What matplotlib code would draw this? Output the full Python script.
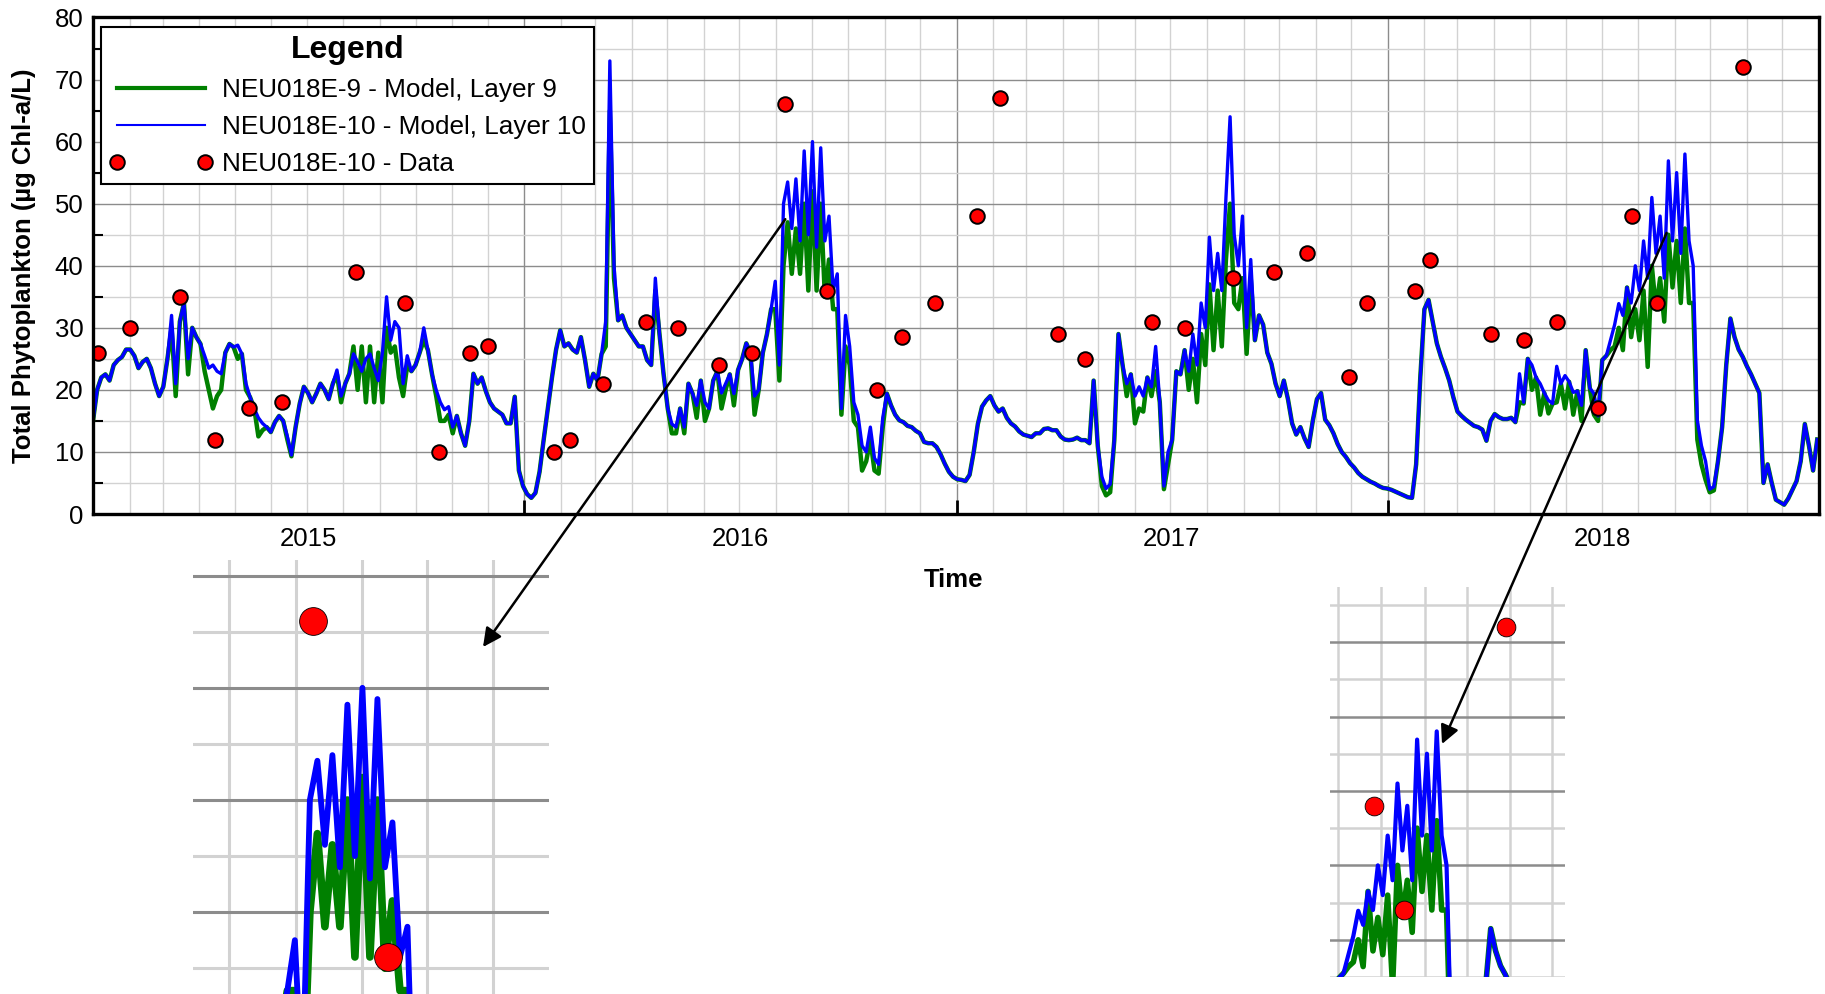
import numpy as np
import pandas as pd
import matplotlib
matplotlib.use("Agg")
import matplotlib.pyplot as plt
import matplotlib.dates as mdates
from matplotlib.patches import ConnectionPatch

plt.rcParams["font.family"] = ["Liberation Sans", "DejaVu Sans"]

# model output every 3.5 days, first value on 2015-01-01
layer10 = [
    15, 20, 22, 22.5, 21.5, 24, 24.8, 25.3, 26.5, 26.5,
    25.5, 23.5, 24.5, 25, 23.5, 21, 19, 20.5, 25, 32,
    21, 31, 34, 25, 30, 28.5, 27.4, 25.5, 23.5, 24,
    23, 22.6, 26, 27.4, 26.9, 27.2, 25.8, 21, 18.8, 17,
    15.5, 14.6, 14, 13.2, 14.8, 15.8, 15, 12.5, 9.5, 14,
    17.8, 20.5, 19.5, 18, 19.4, 21, 20, 18.5, 21, 23.2,
    19, 21, 22.6, 25.8, 24.5, 23, 25, 25.8, 23.5, 21.5,
    26, 35, 28, 31, 30, 21, 25.5, 23, 24, 26,
    30, 26.4, 22.5, 20, 18, 16.8, 17.3, 14, 15.8, 13,
    11, 15, 22.6, 21, 22, 19.8, 18, 17, 16.5, 16,
    14.6, 14.6, 18.9, 7, 4.5, 3.2, 2.6, 3.4, 6.8, 12,
    17, 22, 26.5, 29.6, 27, 27.5, 26.5, 26, 28.5, 24.8,
    20.5, 22.6, 21.5, 25.8, 31, 73, 40, 31.2, 32, 30,
    29, 28, 27, 27, 24.8, 24, 38, 29, 22.5, 17,
    14.5, 14, 17, 14, 21, 19.4, 17.5, 21.5, 18, 17,
    21.5, 23, 19.5, 21, 22.5, 19.4, 23.2, 25, 27.5, 26,
    19, 20, 26, 29, 33, 37.5, 24, 50, 53.5, 46,
    54, 44, 58.5, 45, 60, 43, 59, 44, 48, 36,
    38.7, 17, 32, 27, 18, 16, 11, 10, 14, 9,
    8, 15.5, 19.4, 17.5, 16, 15.1, 14.8, 14.2, 14, 13.4,
    13, 11.6, 11.4, 11.4, 10.8, 9.6, 8.1, 6.8, 6, 5.6,
    5.5, 5.3, 6.3, 10, 14.5, 17.3, 18.3, 19, 17.5, 16.5,
    17, 15.5, 14.6, 14.1, 13.3, 12.8, 12.6, 12.4, 13, 13,
    13.7, 13.8, 13.5, 13.5, 12.5, 12, 11.9, 12, 12.3, 11.9,
    11.9, 11.4, 21.5, 11, 6, 4.1, 4.8, 11.9, 29, 24,
    21, 22.5, 19, 20.5, 19, 22, 20.5, 27, 18, 4.5,
    10, 12, 23, 22.5, 26.4, 23, 29, 24, 34, 30,
    44.6, 36, 42, 36, 51, 64, 45, 40, 48, 30,
    41, 28, 32, 30.5, 26, 24.2, 21, 19, 21.5, 18.5,
    14.6, 12.8, 14, 12.2, 10.8, 15, 18.5, 19.5, 15.2, 14.3,
    13, 11.3, 10, 9.2, 8.2, 7.5, 6.6, 6, 5.6, 5.2,
    4.9, 4.5, 4.2, 4.1, 3.9, 3.6, 3.3, 3, 2.7, 2.6,
    8, 22, 33, 34.5, 31, 27.5, 25.3, 23.5, 21.5, 18.8,
    16.5, 15.8, 15.2, 14.7, 14.2, 14, 13.6, 11.8, 15, 16.1,
    15.6, 15.3, 15.3, 15.5, 14.8, 22.6, 18, 25, 24, 22,
    21, 19.5, 18.3, 17.8, 23.8, 21, 22.3, 21.3, 19.6, 19.8,
    17.5, 26.4, 20.3, 19.4, 15.8, 24.8, 25.5, 28, 30.5, 33.9,
    32, 36.5, 34, 40, 36, 44, 38, 51, 42, 48,
    38, 56.9, 44, 55, 42, 58, 44, 40, 15.1, 11,
    8.5, 4, 4.4, 8.5, 14, 24, 31.5, 28.5, 26.5, 25.3,
    23.8, 22.5, 21, 19.5, 5, 8, 5, 2.3, 1.9, 1.5,
    2.5, 3.9, 5.3, 8.5, 14.5, 11, 7, 12,
]
layer9 = [
    15, 20, 22, 22.5, 21.5, 24, 24.8, 25.3, 26.5, 26.5,
    25.5, 23.5, 24.5, 25, 23.5, 21, 19, 20.5, 25, 30,
    19, 31, 34, 22.5, 30, 28.5, 27.4, 23, 20, 17,
    19, 20, 26, 27.4, 26.9, 25, 25.8, 20, 18.8, 17,
    12.5, 13.5, 14, 13.2, 14.8, 15.8, 15, 12, 9.3, 14,
    17.8, 20.5, 19.5, 18, 19.4, 21, 20, 18.5, 21, 22.5,
    18, 21, 22.6, 27, 20, 27, 18, 27, 18, 26,
    18, 30, 26, 27, 22, 19, 24, 23, 24, 26,
    28, 26.4, 22.5, 19, 15, 15, 16, 13, 15.8, 13,
    11, 15, 22.6, 21, 22, 19.8, 18, 17, 16.5, 16,
    14.6, 14.6, 18.9, 7, 4.5, 3.2, 2.6, 3.4, 6.8, 12,
    17, 22, 26.5, 29.6, 27, 27.5, 26.5, 26, 28.5, 24.8,
    20.5, 22.6, 21.5, 25.8, 27, 65, 38, 31.2, 32, 30,
    29, 28, 27, 27, 24.8, 24, 36, 29, 22.5, 17,
    13, 13, 17, 13, 21, 19.4, 15.5, 21.5, 15, 17,
    21.5, 23, 17, 20, 22.5, 17.5, 23.2, 25, 27.5, 26,
    16, 20, 26, 29, 33, 33, 21.5, 40, 47, 38.7,
    46, 38.7, 50, 36, 52, 36, 50, 35, 41, 33,
    33, 16, 27, 24, 15, 14, 7, 8.5, 12, 7,
    6.5, 14, 19.4, 17.5, 16, 15.1, 14.8, 14.2, 14, 13.4,
    13, 11.6, 11.4, 11.4, 10.8, 9.6, 8.1, 6.8, 6, 5.6,
    5.5, 5.3, 6.3, 10, 14.5, 17.3, 18.3, 19, 17.5, 16.5,
    17, 15.5, 14.6, 14.1, 13.3, 12.8, 12.6, 12.4, 13, 13,
    13.7, 13.8, 13.5, 13.5, 12.5, 12, 11.9, 12, 12.3, 11.9,
    11.9, 11.4, 21.5, 11, 4.5, 3, 3.5, 11.9, 29, 24,
    19, 22.5, 14.6, 17, 16.5, 22, 19, 23, 18, 4,
    8, 12, 23, 22.5, 26.4, 20, 25, 18, 29, 24,
    37, 26.4, 36, 27, 41, 50, 34, 33, 38, 25.8,
    38, 28, 32, 30.5, 26, 24.2, 21, 19, 21.5, 18.5,
    14.6, 12.8, 14, 12.2, 10.8, 15, 18.5, 19.5, 15.2, 14.3,
    13, 11.3, 10, 9.2, 8.2, 7.5, 6.6, 6, 5.6, 5.2,
    4.9, 4.5, 4.2, 4.1, 3.9, 3.6, 3.3, 3, 2.7, 2.6,
    8, 22, 33, 34.5, 31, 27.5, 25.3, 23.5, 21.5, 18.8,
    16.5, 15.8, 15.2, 14.7, 14.2, 14, 13.6, 11.8, 15, 16.1,
    15.6, 15.3, 15.3, 15.5, 14.8, 18, 17.8, 25, 20, 22,
    16, 19.5, 16.2, 17.8, 18, 21, 17, 21.3, 16, 19.8,
    15, 26.4, 20.3, 16, 15, 24.8, 25.5, 26.4, 27, 30,
    26.4, 36.5, 28.5, 33, 28, 36, 23.7, 40, 33, 38,
    31, 45, 36.5, 44, 34, 46, 34, 34, 12, 8,
    5.5, 3.5, 3.8, 8.5, 14, 24, 31.5, 28.5, 26.5, 25.3,
    23.8, 22.5, 21, 19.5, 5, 8, 5, 2.3, 1.9, 1.5,
    2.5, 3.9, 5.3, 8.5, 14.5, 11, 7, 12,
]
model_dates = pd.date_range("2015-01-01", periods=len(layer10), freq="84h")

obs_dates = pd.to_datetime([
    "2015-01-05", "2015-02-01", "2015-03-16", "2015-04-14", "2015-05-13",
    "2015-06-10", "2015-08-12", "2015-09-22", "2015-10-21", "2015-11-16",
    "2015-12-01", "2016-01-26", "2016-02-09", "2016-03-08", "2016-04-13",
    "2016-05-10", "2016-06-14", "2016-07-12", "2016-08-09", "2016-09-13",
    "2016-10-26", "2016-11-16", "2016-12-14", "2017-01-18", "2017-02-07",
    "2017-03-28", "2017-04-20", "2017-06-15", "2017-07-13", "2017-08-23",
    "2017-09-27", "2017-10-25", "2017-11-29", "2017-12-14", "2018-01-24",
    "2018-02-06", "2018-03-29", "2018-04-26", "2018-05-24", "2018-06-28",
    "2018-07-27", "2018-08-17", "2018-10-29",
])
obs_values = [
    26, 30, 35, 12, 17, 18, 39, 34, 10, 26,
    27, 10, 12, 21, 31, 30, 24, 26, 66, 36,
    20, 28.5, 34, 48, 67, 29, 25, 31, 30, 38,
    39, 42, 22, 34, 36, 41, 29, 28, 31, 17,
    48, 34, 72,
]

year_labels = ["2015", "2016", "2017", "2018"]

GREEN = "#008000"
BLUE = "#0000ff"
DARK_GRID = "#8c8c8c"
LIGHT_GRID = "#d2d2d2"


def draw_series(ax, lw_green, lw_blue, ms, mew, label=True):
    ax.plot(model_dates, layer9, color=GREEN, lw=lw_green,
            label="NEU018E-9 - Model, Layer 9" if label else None)
    ax.plot(model_dates, layer10, color=BLUE, lw=lw_blue,
            label="NEU018E-10 - Model, Layer 10" if label else None)
    ax.plot(obs_dates, obs_values, "o", color="#ff0000", mec="black",
            ms=ms, mew=mew, label="NEU018E-10 - Data" if label else None)


def draw_zoom(rect, x0, x1, y0, y1, lw_green, lw_blue, ms, grid_lw):
    ins = fig.add_axes(rect)
    draw_series(ins, lw_green, lw_blue, ms, 0.6, label=False)
    ins.xaxis.set_major_locator(mdates.MonthLocator())
    ins.set_yticks(np.arange(0, 81, 10))
    ins.set_yticks(np.arange(5, 80, 10), minor=True)
    ins.set_xlim(pd.Timestamp(x0), pd.Timestamp(x1))
    ins.set_ylim(y0, y1)
    ins.grid(axis="x", which="major", color=LIGHT_GRID, lw=grid_lw)
    ins.grid(axis="y", which="major", color=DARK_GRID, lw=grid_lw)
    ins.grid(axis="y", which="minor", color=LIGHT_GRID, lw=grid_lw)
    ins.set_axisbelow(True)
    ins.tick_params(which="both", length=0, labelbottom=False, labelleft=False)
    for s in ins.spines.values():
        s.set_visible(False)
    return ins


fig = plt.figure(figsize=(18.25, 9.94), dpi=100)
ax = fig.add_axes([93 / 1825, 1 - 514 / 994, 1726 / 1825, 496.5 / 994])

draw_series(ax, 3.2, 2.4, 10.5, 1.4)

ax.xaxis.set_major_locator(mdates.YearLocator())
ax.xaxis.set_minor_locator(mdates.MonthLocator(bymonth=range(2, 13)))
ax.xaxis.set_major_formatter(plt.NullFormatter())
ax.set_yticks(np.arange(0, 81, 10))
ax.set_yticks(np.arange(5, 80, 10), minor=True)
ax.set_xlim(pd.Timestamp("2015-01-01"), pd.Timestamp("2019-01-01"))
ax.set_ylim(0, 80)
ax.grid(which="major", color=DARK_GRID, lw=1.0)
ax.grid(which="minor", color=LIGHT_GRID, lw=1.0)
ax.set_axisbelow(True)
ax.tick_params(axis="x", which="major", direction="in", length=10, width=2, color="black")
ax.tick_params(axis="x", which="minor", length=0)
ax.tick_params(axis="y", which="major", length=0, labelsize=18.5, pad=7)
ax.tick_params(axis="y", which="minor", direction="in", length=7, width=1.5)
for s in ax.spines.values():
    s.set_linewidth(2.4)

for lab in year_labels:
    mid = pd.Timestamp(f"{lab}-07-02")
    ax.text(mid, -0.05, lab, transform=ax.get_xaxis_transform(),
            ha="center", va="center", fontsize=18.5)

ax.set_ylabel("Total Phytoplankton (µg Chl-a/L)", fontsize=18.5, fontweight="bold")
ax.yaxis.set_label_coords(-0.033, 0.5)
ax.set_xlabel("Time", fontsize=18.5, fontweight="bold")
ax.xaxis.set_label_coords(0.4988, -0.108)

leg = ax.legend(title="Legend", loc="upper left", bbox_to_anchor=(0.0046, 0.981),
                fontsize=18.8, title_fontproperties={"weight": "bold", "size": 23},
                fancybox=False, edgecolor="black", framealpha=1, numpoints=2,
                handlelength=4.0, handletextpad=0.35, borderaxespad=0,
                borderpad=0.3, labelspacing=0.5)
leg.get_frame().set_linewidth(1.5)
leg.legend_handles[0].set_linewidth(3.0)
leg.legend_handles[1].set_linewidth(1.5)

# zoomed views below the main chart
draw_zoom([193 / 1825, 0.0, 356 / 1825, 434 / 994],
          "2016-06-14", "2016-11-27", 32.7, 71.4, 5.5, 4.2, 20, 2.2)
draw_zoom([1329.5 / 1825, 17 / 994, 235.5 / 1825, 390 / 994],
          "2018-06-25", "2018-12-10", 25, 77.4, 4.0, 3.0, 13.5, 1.8)

for tail, head in [((pd.Timestamp("2016-08-09"), 47.5), (483 / 1825, 1 - 647 / 994)),
                   ((pd.Timestamp("2018-08-25"), 45.3), (1442 / 1825, 1 - 744 / 994))]:
    con = ConnectionPatch(xyA=(mdates.date2num(tail[0]), tail[1]), coordsA=ax.transData,
                          xyB=head, coordsB=fig.transFigure,
                          arrowstyle="-|>", color="black", lw=1.8,
                          mutation_scale=28, shrinkA=0, shrinkB=0)
    fig.add_artist(con)

fig.savefig("out.png", dpi=100)
plt.close(fig)
